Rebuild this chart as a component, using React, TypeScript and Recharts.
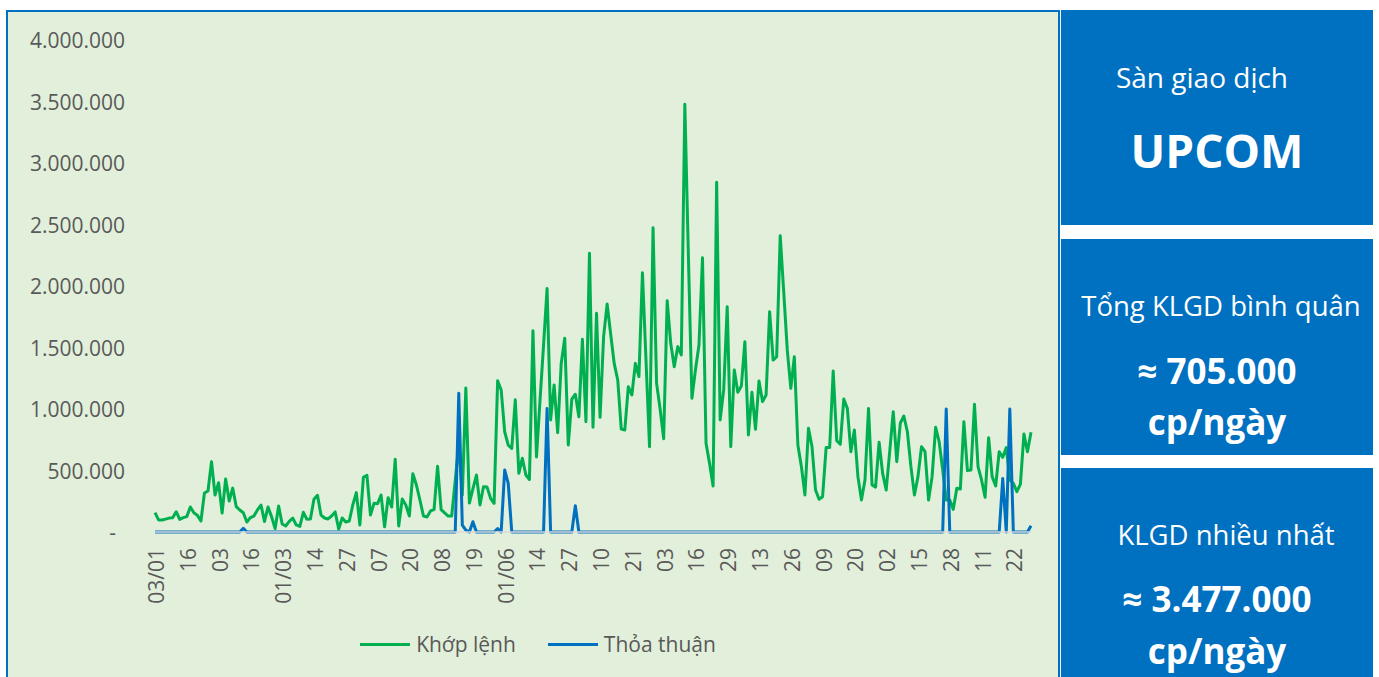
import { LineChart, Line, XAxis, YAxis, Legend } from 'recharts';

const FONT = '"Open Sans", sans-serif';
const GREEN = '#00B050';
const BLUE = '#0070C0';
const TEXT = '#595959';

// ngày giao dịch 2023 theo tháng
const jan = [3, 4, 5, 6, 9, 10, 11, 12, 13, 16, 17, 18, 19, 27, 30, 31];
const feb = [1, 2, 3, 6, 7, 8, 9, 10, 13, 14, 15, 16, 17, 20, 21, 22, 23, 24, 27, 28];
const mar = [1, 2, 3, 6, 7, 8, 9, 10, 13, 14, 15, 16, 17, 20, 21, 22, 23, 24, 27, 28, 29, 30, 31];
const apr = [3, 4, 5, 6, 7, 10, 11, 12, 13, 14, 17, 18, 19, 20, 21, 24, 25, 26, 27, 28];
const may = [4, 5, 8, 9, 10, 11, 12, 15, 16, 17, 18, 19, 22, 23, 24, 25, 26, 29, 30, 31];
const jun = [1, 2, 5, 6, 7, 8, 9, 12, 13, 14, 15, 16, 19, 20, 21, 22, 23, 26, 27, 28, 29, 30];
const jul = [3, 4, 5, 6, 7, 10, 11, 12, 13, 14, 17, 18, 19, 20, 21, 24, 25, 26, 27, 28, 31];
const aug = [1, 2, 3, 4, 7, 8, 9, 10, 11, 14, 15, 16, 17, 18, 21, 22, 23, 24, 25, 28, 29, 30, 31];
const sep = [5, 6, 7, 8, 11, 12, 13, 14, 15, 18, 19, 20, 21, 22, 25, 26, 27, 28, 29];
const oct = [2, 3, 4, 5, 6, 9, 10, 11, 12, 13, 16, 17, 18, 19, 20, 23, 24, 25, 26, 27, 30, 31];
const nov = [1, 2, 3, 6, 7, 8, 9, 10, 13, 14, 15, 16, 17, 20, 21, 22, 23, 24, 27, 28, 29, 30];
const dec = [1, 4, 5, 6, 7, 8, 11, 12, 13, 14, 15, 18, 19, 20, 21, 22, 25, 26, 27, 28, 29];
const months = [jan, feb, mar, apr, may, jun, jul, aug, sep, oct, nov, dec];

// Khớp lệnh (nghìn cp)
const khopLenh = [
  157, 98, 97, 105, 113, 115, 165, 103, 117, 125,
  203, 157, 135, 89, 317, 333, 572, 300, 401, 154,
  431, 252, 357, 206, 179, 157, 81, 117, 130, 179,
  219, 86, 203, 125, 27, 211, 65, 49, 86, 113,
  57, 45, 160, 103, 106, 266, 298, 138, 114, 106,
  130, 163, 24, 114, 81, 89, 220, 320, 57, 444,
  461, 138, 233, 230, 301, 43, 279, 203, 591, 49,
  268, 220, 130, 474, 382, 260, 130, 122, 171, 182,
  534, 182, 155, 130, 130, 420, 720, 300, 1170, 235,
  350, 463, 220, 368, 365, 274, 233, 1230, 1155, 815,
  707, 680, 1075, 477, 600, 463, 427, 1637, 610, 1070,
  1520, 1980, 911, 1195, 807, 1370, 1575, 707, 1080, 1120,
  937, 1567, 897, 2266, 851, 1778, 932, 1588, 1854, 1610,
  1371, 1236, 837, 829, 1181, 1114, 1371, 1263, 2108, 1400,
  694, 2474, 1209, 1000, 759, 1881, 1534, 1344, 1507, 1439,
  3477, 2250, 1087, 1317, 1520, 2230, 721, 558, 374, 2843,
  911, 1155, 1832, 694, 1317, 1136, 1187, 1547, 789, 1136,
  835, 1228, 1060, 1114, 1791, 1398, 1425, 2409, 1950, 1480,
  1168, 1425, 707, 531, 301, 843, 694, 341, 266, 287,
  686, 686, 1309, 742, 713, 1081, 1005, 653, 829, 450,
  260, 423, 1005, 382, 365, 730, 477, 341, 653, 978,
  572, 884, 943, 815, 531, 301, 450, 694, 653, 260,
  450, 851, 734, 504, 260, 260, 184, 355, 350, 897,
  499, 504, 1038, 531, 423, 282, 767, 450, 374, 653,
  607, 686, 423, 396, 328, 390, 797, 653, 811,
];

// Thỏa thuận (nghìn cp)
const thoaThuan = [
  0, 0, 0, 0, 0, 0, 0, 0, 0, 0, 0, 0, 0, 0, 0, 0, 0, 0, 0, 0, 0, 0, 0, 0, 0,
  30, 0, 0, 0, 0, 0, 0, 0, 0, 0, 0, 0, 0, 0, 0, 0, 0, 0, 0, 0, 0, 0, 0, 0, 0,
  0, 0, 0, 0, 0, 0, 0, 0, 0, 0, 0, 0, 0, 0, 0, 0, 0, 0, 0, 0, 0, 0, 0, 0, 0,
  0, 0, 0, 0, 0, 0, 0, 0, 0, 0, 0, 1128, 55, 15, 0, 84, 0, 0, 0, 0, 0, 0, 27, 0, 504,
  396, 0, 0, 0, 0, 0, 0, 0, 0, 0, 0, 1005, 0, 0, 0, 0, 0, 0, 0, 214, 0, 0, 0, 0, 0,
  0, 0, 0, 0, 0, 0, 0, 0, 0, 0, 0, 0, 0, 0, 0, 0, 0, 0, 0, 0, 0, 0, 0, 0, 0,
  0, 0, 0, 0, 0, 0, 0, 0, 0, 0, 0, 0, 0, 0, 0, 0, 0, 0, 0, 0, 0, 0, 0, 0, 0,
  0, 0, 0, 0, 0, 0, 0, 0, 0, 0, 0, 0, 0, 0, 0, 0, 0, 0, 0, 0, 0, 0, 0, 0, 0,
  0, 0, 0, 0, 0, 0, 0, 0, 0, 0, 0, 0, 0, 0, 0, 0, 0, 0, 0, 0, 0, 0, 0, 0, 1000,
  0, 0, 0, 0, 0, 0, 0, 0, 0, 0, 0, 0, 0, 0, 0, 435, 0, 1000, 0, 0, 0, 0, 0, 51,
];

const yTicks = [0, 500000, 1000000, 1500000, 2000000, 2500000, 3000000, 3500000, 4000000];

const pad = (n: number) => (n < 10 ? '0' + n : String(n));
const dates: string[] = [];
months.forEach((days, m) => days.forEach((d) => dates.push(pad(d) + '/' + pad(m + 1))));

const data = dates.map((date, i) => ({
  date,
  khop: khopLenh[i] * 1000,
  thoa: thoaThuan[i] * 1000,
}));

const fmt = (v: number) => String(v).replace(/\B(?=(\d{3})+(?!\d))/g, '.');

const XTick = ({ x, y, payload }: any) => {
  const v: string = payload.value;
  const label = v === dates[0] || v.startsWith('01/') ? v : v.slice(0, 2);
  return (
    <text
      x={x + 1}
      y={y}
      transform={`rotate(-90 ${x + 1} ${y})`}
      textAnchor="end"
      dominantBaseline="central"
      fontFamily={FONT}
      fontSize={21}
      fill={TEXT}
    >
      {label}
    </text>
  );
};

const YTick = ({ x, y, payload }: any) => (
  <text
    x={payload.value === 0 ? x - 9 : x}
    y={y}
    textAnchor="end"
    dominantBaseline="central"
    fontFamily={FONT}
    fontSize={21}
    fill={TEXT}
  >
    {payload.value === 0 ? '-' : fmt(payload.value)}
  </text>
);

const LegendContent = ({ payload }: any) => (
  <div style={{ display: 'flex', justifyContent: 'center', alignItems: 'center', fontFamily: FONT, fontSize: 21, color: TEXT }}>
    {(payload || []).map((p: any, i: number) => (
      <div key={i} style={{ display: 'flex', alignItems: 'center', marginLeft: i ? 32 : 0 }}>
        <span style={{ display: 'inline-block', width: 50, height: 3, background: p.color, marginRight: 6 }} />
        <span>{p.value}</span>
      </div>
    ))}
  </div>
);

const boxes = [
  { top: 10, height: 215 },
  { top: 239, height: 216 },
  { top: 468, height: 220 },
];

const boxTexts = [
  { text: 'Sàn giao dịch', x: 1202, y: 77, size: 28, bold: false },
  { text: 'UPCOM', x: 1217, y: 150, size: 46, bold: true },
  { text: 'Tổng KLGD bình quân', x: 1221, y: 306, size: 27.5, bold: false },
  { text: '≈ 705.000', x: 1217, y: 370, size: 35, bold: true },
  { text: 'cp/ngày', x: 1217, y: 421, size: 35, bold: true },
  { text: 'KLGD nhiều nhất', x: 1226, y: 535, size: 27.5, bold: false },
  { text: '≈ 3.477.000', x: 1217, y: 598, size: 35, bold: true },
  { text: 'cp/ngày', x: 1217, y: 650, size: 35, bold: true },
];

export default function App() {
  return (
    <div style={{ position: 'absolute', left: 0, top: 0, width: 1379, height: 677, overflow: 'hidden', background: '#fff' }}>
      <div
        style={{
          position: 'absolute', left: 6, top: 10, width: 1054, height: 700,
          boxSizing: 'border-box', border: `2px solid ${BLUE}`, background: '#E2EFDA',
        }}
      />
      {boxes.map((b, i) => (
        <div key={i} style={{ position: 'absolute', left: 1061, top: b.top, width: 312, height: b.height, background: BLUE }} />
      ))}
      {boxTexts.map((t, i) => (
        <div
          key={i}
          style={{
            position: 'absolute', left: t.x, top: t.y, transform: 'translate(-50%, -50%)',
            whiteSpace: 'nowrap', lineHeight: 1, color: '#fff', fontFamily: FONT,
            fontSize: t.size, fontWeight: t.bold ? 700 : 400,
          }}
        >
          {t.text}
        </div>
      ))}
      <div style={{ position: 'absolute', left: 0, top: 0 }}>
        <LineChart width={1060} height={677} data={data} margin={{ top: 40, right: 29, bottom: 0, left: 0 }}>
          <XAxis
            dataKey="date"
            interval={8}
            height={145}
            tickSize={0}
            tickMargin={16}
            tickLine={false}
            axisLine={{ stroke: '#D9D9D9', strokeWidth: 1.5 }}
            tick={<XTick />}
          />
          <YAxis
            width={155}
            domain={[0, 4000000]}
            ticks={yTicks}
            tickSize={0}
            tickMargin={30}
            tickLine={false}
            axisLine={false}
            tick={<YTick />}
          />
          <Legend
            layout="horizontal"
            verticalAlign="middle"
            align="center"
            content={<LegendContent />}
            wrapperStyle={{ left: 0, top: 630, width: 1076 }}
          />
          <Line
            name="Khớp lệnh"
            dataKey="khop"
            type="linear"
            stroke={GREEN}
            strokeWidth={3}
            strokeLinejoin="round"
            dot={false}
            isAnimationActive={false}
          />
          <Line
            name="Thỏa thuận"
            dataKey="thoa"
            type="linear"
            stroke={BLUE}
            strokeWidth={3}
            strokeLinejoin="round"
            dot={false}
            isAnimationActive={false}
          />
        </LineChart>
      </div>
    </div>
  );
}
